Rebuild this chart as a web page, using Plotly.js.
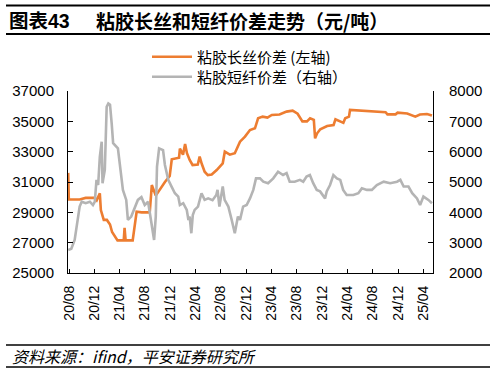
<!DOCTYPE html>
<html>
<head>
<meta charset="utf-8">
<script src="https://cdn.plot.ly/plotly-3.0.1.min.js"></script>
<style>html,body{margin:0;padding:0;background:#fff;}#chart{width:495px;height:374px;}</style>
</head>
<body>
<div id="chart"></div>
<script>
// 粘胶长丝价差 (left axis, 元/吨)
const filamentDates = ['2020-07-28','2020-07-31','2020-09-21','2020-10-20','2020-12-03','2020-12-12','2020-12-27','2021-01-01','2021-01-15','2021-01-30','2021-02-14','2021-02-24','2021-03-22','2021-04-21','2021-04-25','2021-04-30','2021-06-03','2021-06-13','2021-06-22','2021-07-16','2021-08-24','2021-09-03','2021-09-22','2021-11-05','2021-11-28','2021-12-08','2022-01-12','2022-01-16','2022-01-31','2022-02-10','2022-02-19','2022-03-04','2022-03-18','2022-04-12','2022-04-21','2022-05-01','2022-05-15','2022-05-30','2022-06-18','2022-07-12','2022-08-10','2022-08-20','2022-09-13','2022-10-07','2022-11-01','2022-11-25','2022-12-19','2023-01-12','2023-01-27','2023-02-18','2023-03-13','2023-04-03','2023-05-10','2023-06-13','2023-07-12','2023-08-05','2023-08-28','2023-09-19','2023-10-04','2023-10-22','2023-10-28','2023-11-07','2023-11-22','2023-12-25','2024-01-25','2024-02-03','2024-02-27','2024-03-12','2024-03-21','2024-04-08','2024-04-13','2024-07-04','2024-07-28','2024-10-01','2024-10-10','2024-11-18','2024-11-28','2025-01-13','2025-02-21','2025-03-15','2025-04-18','2025-05-12'];
const filamentSpread = [31600,29850,29850,29950,29950,29800,30250,29150,28500,28500,28200,27700,27150,27150,27970,27150,27150,28160,29040,29000,29000,30800,30100,31000,31400,32500,32600,33200,32800,33500,32900,32450,32120,32150,32670,32200,31680,31460,31500,31790,32230,33000,32800,32900,33660,33990,34430,34540,35200,35310,35250,35420,35450,35640,35700,35500,35000,35000,35200,35100,33880,34210,34480,34690,34760,35130,35000,34900,35200,35310,35750,35700,35640,35600,35460,35460,35570,35520,35310,35450,35480,35380];

// 粘胶短纤价差 (right axis, 元/吨)
const stapleDates = ['2020-07-28','2020-08-12','2020-08-28','2020-09-13','2020-09-21','2020-10-01','2020-10-20','2020-11-09','2020-11-24','2020-12-03','2020-12-11','2020-12-19','2020-12-27','2021-01-05','2021-01-09','2021-01-20','2021-01-29','2021-02-06','2021-02-14','2021-02-22','2021-03-01','2021-03-24','2021-04-09','2021-04-17','2021-05-03','2021-05-11','2021-05-27','2021-06-13','2021-06-28','2021-07-15','2021-07-31','2021-08-16','2021-09-02','2021-09-14','2021-09-22','2021-09-28','2021-10-08','2021-10-27','2021-11-05','2021-11-21','2021-12-07','2021-12-23','2022-01-08','2022-01-16','2022-02-01','2022-02-18','2022-02-26','2022-03-04','2022-03-12','2022-03-19','2022-03-28','2022-04-13','2022-04-30','2022-05-15','2022-06-01','2022-06-22','2022-07-10','2022-07-16','2022-07-25','2022-08-10','2022-08-19','2022-09-06','2022-09-22','2022-10-07','2022-10-22','2022-11-01','2022-11-16','2022-12-03','2022-12-19','2023-01-04','2023-01-17','2023-02-05','2023-02-21','2023-03-16','2023-04-10','2023-05-03','2023-05-27','2023-06-13','2023-06-28','2023-07-22','2023-08-16','2023-09-01','2023-09-17','2023-10-03','2023-10-19','2023-11-05','2023-11-21','2023-12-07','2023-12-15','2023-12-23','2024-01-08','2024-01-24','2024-02-10','2024-02-26','2024-03-11','2024-03-28','2024-04-29','2024-05-23','2024-06-09','2024-07-03','2024-07-27','2024-08-20','2024-09-22','2024-10-23','2024-11-25','2024-12-11','2024-12-27','2025-01-19','2025-02-06','2025-03-01','2025-03-16','2025-04-01','2025-04-25','2025-05-12'];
const stapleSpread = [2760,2800,3090,3800,4190,4350,4300,4350,4240,4350,5070,4900,5830,6330,4960,5400,7480,7590,7550,6930,6280,6110,5290,4740,4410,3750,3860,4190,4410,4500,4240,4350,3530,3090,3860,5510,6110,6050,5560,5070,4850,4630,4520,4240,4300,4080,3750,3860,3310,3910,4080,4190,4630,4410,4460,4400,4570,4740,4190,4850,4410,4190,3750,3310,3860,3750,4190,4240,4460,4740,5120,5120,5010,4960,5120,5340,5230,5290,5010,5010,5070,5010,5180,5230,4960,4740,4690,4520,4460,4690,4900,5230,5120,5070,4740,4570,4570,4630,4790,4740,4740,4900,5010,4960,5010,5070,4850,4850,4630,4460,4240,4520,4410,4300];

// Axis ticks
const xTickVals = ['2020-08-01','2020-12-01','2021-04-01','2021-08-01','2021-12-01','2022-04-01','2022-08-01','2022-12-01','2023-04-01','2023-08-01','2023-12-01','2024-04-01','2024-08-01','2024-12-01','2025-04-01'];
const xTickText = ['20/08','20/12','21/04','21/08','21/12','22/04','22/08','22/12','23/04','23/08','23/12','24/04','24/08','24/12','25/04'];
const leftTicks = [25000,27000,29000,31000,33000,35000,37000];
const rightTicks = [2000,3000,4000,5000,6000,7000,8000];

const seriesNames = ['粘胶长丝价差 (左轴)', '粘胶短纤价差（右轴）'];
const chartNo = '<b>图表43</b>';
const titleText = '<b>粘胶长丝和短纤价差走势（元/吨）</b>';
const sourceText = '<i>资料来源：ifind，平安证券研究所</i>';

const LAT = 'Liberation Sans, Arial, sans-serif';
const CJK = '"Noto Sans CJK SC", sans-serif';

const traces = [
  {x: filamentDates, y: filamentSpread, name: seriesNames[0], type: 'scatter', mode: 'lines',
   line: {color: '#ED7D31', width: 2.6}, yaxis: 'y', legend: 'legend'},
  {x: stapleDates, y: stapleSpread, name: seriesNames[1], type: 'scatter', mode: 'lines',
   line: {color: '#B4B4B4', width: 2.6}, yaxis: 'y2', legend: 'legend2'}
];

const L = 68, R = 433, T = 91, B = 273, W = 495, H = 374;
const px = v => (v - L) / (R - L);
const py = v => (B - v) / (B - T);

const legendBase = {
  xanchor: 'left', yanchor: 'middle',
  bgcolor: 'rgba(0,0,0,0)', borderwidth: 0, itemwidth: 40,
  font: {family: CJK, size: 15, color: '#000'}
};

const layout = {
  width: W, height: H,
  margin: {l: L, r: W - R, t: T, b: H - B, pad: 0},
  paper_bgcolor: '#fff', plot_bgcolor: '#fff',
  showlegend: true,
  font: {family: LAT, size: 15, color: '#000'},
  xaxis: {
    type: 'date', range: ['2020-07-27', '2025-05-17'],
    tickvals: xTickVals, ticktext: xTickText, tickangle: -90,
    ticks: 'inside', ticklen: 4, tickcolor: '#000', tickwidth: 1,
    showline: true, linecolor: '#000', linewidth: 1, showgrid: false, zeroline: false,
    tickfont: {family: LAT, size: 14, color: '#000'},
    ticklabelstandoff: 6
  },
  yaxis: {
    range: [25000, 37000], tickvals: leftTicks, tickformat: 'd',
    ticks: 'inside', ticklen: 5, tickcolor: '#000',
    showline: true, linecolor: '#000', linewidth: 1, showgrid: false, zeroline: false,
    tickfont: {family: LAT, size: 15, color: '#000'},
    ticklabelstandoff: 10
  },
  yaxis2: {
    range: [2000, 8000], tickvals: rightTicks, tickformat: 'd',
    overlaying: 'y', side: 'right',
    ticks: 'inside', ticklen: 5, tickcolor: '#000',
    showline: true, linecolor: '#000', linewidth: 1, showgrid: false, zeroline: false,
    tickfont: {family: LAT, size: 15, color: '#000'},
    ticklabelstandoff: 12
  },
  legend: Object.assign({}, legendBase, {x: px(147), y: py(57)}),
  legend2: Object.assign({}, legendBase, {x: px(147), y: py(77)}),
  shapes: [
    {type: 'line', xref: 'paper', yref: 'paper', x0: px(6), x1: px(490), y0: py(5.5), y1: py(5.5), line: {color: '#000', width: 2}},
    {type: 'line', xref: 'paper', yref: 'paper', x0: px(6), x1: px(490), y0: py(34), y1: py(34), line: {color: '#000', width: 2}},
    {type: 'line', xref: 'paper', yref: 'paper', x0: px(6), x1: px(490), y0: py(345), y1: py(345), line: {color: '#000', width: 1.5}},
    {type: 'line', xref: 'paper', yref: 'paper', x0: px(6), x1: px(490), y0: py(367), y1: py(367), line: {color: '#000', width: 1.5}}
  ],
  annotations: [
    {text: chartNo, xref: 'paper', yref: 'paper', x: px(7), y: py(20.5), xanchor: 'left', yanchor: 'middle',
     showarrow: false, font: {family: LAT + ', ' + CJK, size: 19.5, color: '#000'}},
    {text: titleText, xref: 'paper', yref: 'paper', x: px(94), y: py(20.5), xanchor: 'left', yanchor: 'middle',
     showarrow: false, font: {family: CJK, size: 19, color: '#000'}},
    {text: sourceText, xref: 'paper', yref: 'paper', x: px(10), y: py(356), xanchor: 'left', yanchor: 'middle',
     showarrow: false, font: {family: CJK, size: 16, color: '#000', weight: 'normal'}}
  ]
};

Plotly.newPlot('chart', traces, layout, {displayModeBar: false, staticPlot: true});
</script>
</body>
</html>
